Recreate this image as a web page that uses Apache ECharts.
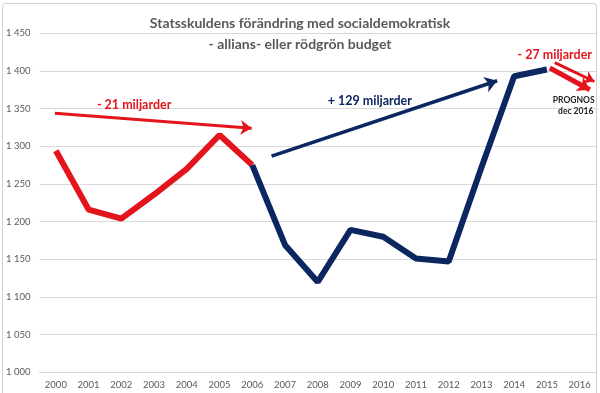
<!DOCTYPE html>
<html>
<head>
<meta charset="utf-8">
<script src="https://cdn.jsdelivr.net/npm/echarts@6/dist/echarts.min.js"></script>
<style>
html,body{margin:0;padding:0;background:#fff;}
#c{width:600px;height:393px;}
</style>
</head>
<body>
<div id="c"></div>
<script>
const years = ['2000','2001','2002','2003','2004','2005','2006','2007','2008','2009','2010','2011','2012','2013','2014','2015','2016'];
const redValues = [1294,1216,1204,1236,1270,1315,1275,null,null,null,null,null,null,null,null,null,null];
const blueValues = [null,null,null,null,null,null,1275,1169,1120,1189,1180,1151,1147,1272,1393,1402,null];
const yTicks = [1000,1050,1100,1150,1200,1250,1300,1350,1400,1450];
const titleLines = ['Statsskuldens förändring med socialdemokratisk', '- allians- eller rödgrön budget'];
// annotation arrows in data space: [x index, value]
const arrowRed1 = [[-0.03,1344],[5.98,1324]];
const arrowBlue = [[6.59,1287],[13.48,1387]];
const arrowRed2a = [[15.24,1411],[16.45,1386]];
const arrowRed2b = [[15.09,1404],[16.31,1375]];
const notes = [
  {text:'- 21 miljarder', at:[2.39,1355], kind:'red'},
  {text:'+ 129 miljarder', at:[9.59,1360], kind:'blue'},
  {text:'- 27 miljarder', at:[15.24,1421], kind:'red'},
  {text:'PROGNOS', at:[15.82,1361], kind:'small'},
  {text:'dec 2016', at:[15.88,1347], kind:'small'}
];

const RED = '#e3141c';
const NAVY = '#0c2660';
const FONT = 'Lato, "Open Sans", sans-serif';

const chart = echarts.init(document.getElementById('c'), null, {renderer:'canvas'});

function arrow(coords, color, width, size) {
  return {
    type:'line', xAxisIndex:1, data:[], silent:true,
    markLine:{
      silent:true, animation:false,
      symbol:['none','arrow'], symbolSize:size,
      label:{show:false},
      lineStyle:{color:color, width:width, type:'solid'},
      emphasis:{disabled:true},
      data:[[{coord:coords[0]},{coord:coords[1]}]]
    }
  };
}

const noteStyles = {
  red:{color:RED, fontSize:12.5, fontWeight:'bold'},
  blue:{color:NAVY, fontSize:12.5, fontWeight:'bold'},
  small:{color:'#222', fontSize:8.5, fontWeight:'bold'}
};

const option = {
  backgroundColor:'#fff',
  animation:false,
  title:{
    text: titleLines[0] + '\n' + titleLines[1],
    left:'center', top:8,
    textStyle:{fontFamily:FONT, fontSize:14, fontWeight:'bold', color:'#595959', lineHeight:21}
  },
  grid:{left:39.5, right:4, top:33.3, bottom:20.7, containLabel:false},
  xAxis:[
    {type:'category', data:years, boundaryGap:true,
     axisLine:{show:true, lineStyle:{color:'#d9d9d9'}},
     axisTick:{show:false},
     axisLabel:{fontFamily:FONT, fontSize:9.5, color:'#595959', margin:8, interval:0},
     splitLine:{show:false}},
    {type:'value', min:-0.5, max:16.5, show:false}
  ],
  yAxis:{
    type:'value', min:yTicks[0], max:yTicks[yTicks.length-1], interval:50,
    axisLine:{show:false}, axisTick:{show:false},
    axisLabel:{fontFamily:FONT, fontSize:9.5, color:'#595959', margin:9,
      formatter:v=>String(v).replace(/\B(?=(\d{3})+(?!\d))/g,' ')},
    splitLine:{lineStyle:{color:'#d9d9d9', width:1}}
  },
  graphic:[
    {type:'rect', shape:{x:2.5, y:3.5, width:594, height:400, r:3}, style:{fill:'none', stroke:'#d0d0d0', lineWidth:1}, z:-1}
  ],
  series:[
    {type:'line', name:'red', data:redValues, symbol:'none', lineStyle:{color:RED, width:6}, z:3},
    {type:'line', name:'blue', data:blueValues, symbol:'none', lineStyle:{color:NAVY, width:6}, z:4},
    arrow(arrowRed1, RED, 3, 11),
    arrow(arrowBlue, NAVY, 3.5, 12),
    arrow(arrowRed2a, RED, 3, 10),
    arrow(arrowRed2b, RED, 5, 12),
    {
      type:'line', xAxisIndex:1, data:[], silent:true,
      markPoint:{
        silent:true, animation:false, symbol:'circle', symbolSize:0,
        data: notes.map(n=>({coord:n.at, label:{show:true, position:'inside', formatter:n.text,
          fontFamily:FONT, color:noteStyles[n.kind].color, fontSize:noteStyles[n.kind].fontSize, fontWeight:noteStyles[n.kind].fontWeight}}))
      }
    }
  ]
};
chart.setOption(option);
</script>
</body>
</html>
